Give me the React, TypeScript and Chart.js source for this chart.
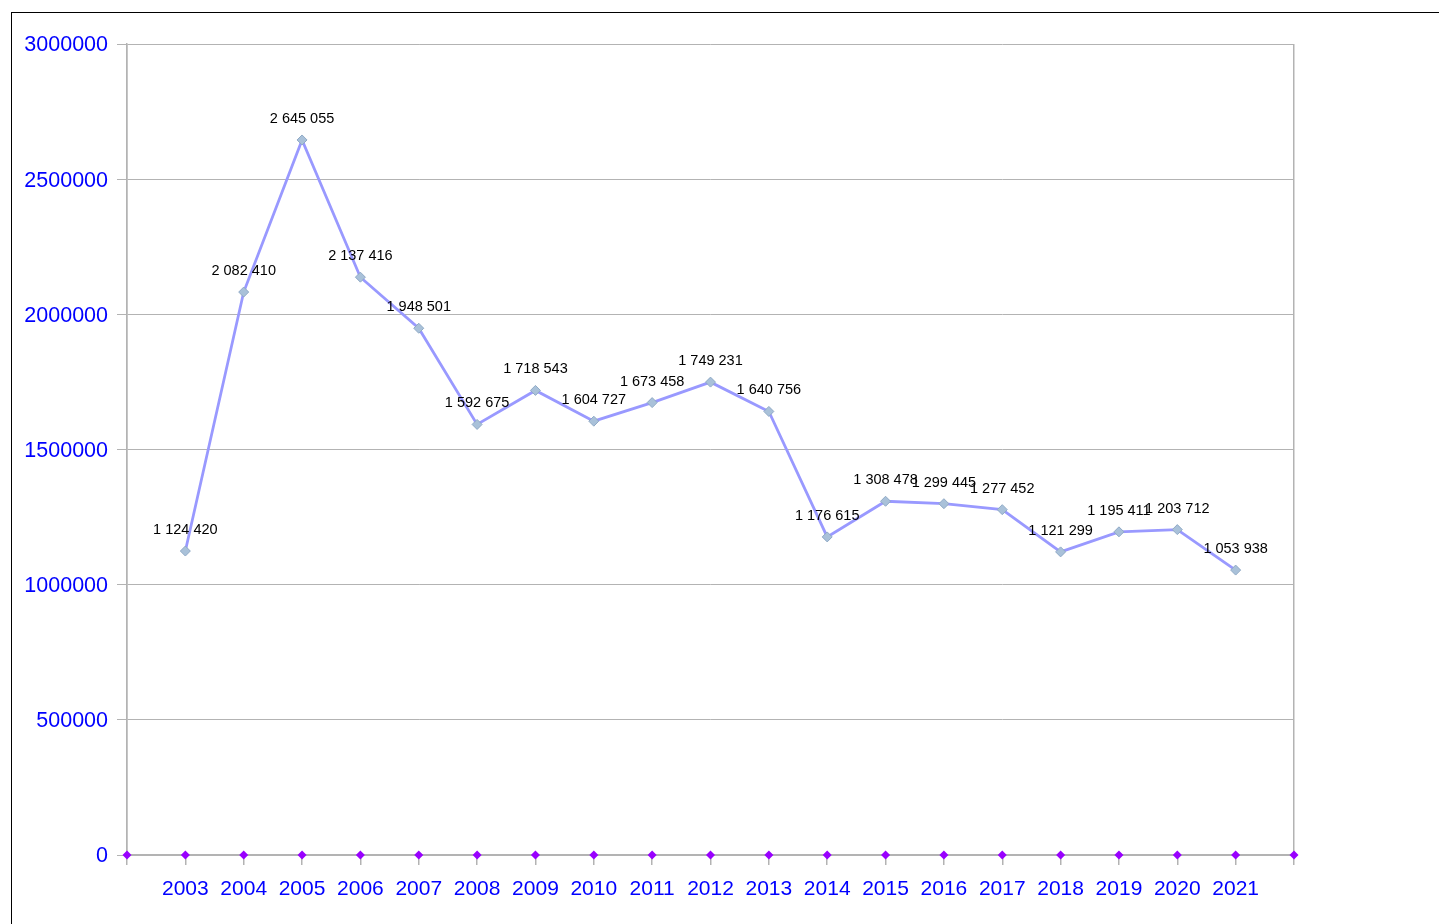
import React, { useEffect, useRef } from "react";
import { Chart, registerables } from "chart.js";

Chart.register(...registerables);

const categories = ["", "2003", "2004", "2005", "2006", "2007", "2008", "2009", "2010", "2011", "2012", "2013", "2014", "2015", "2016", "2017", "2018", "2019", "2020", "2021", ""];
const seriesValues: (number | null)[] = [null, 1124420, 2082410, 2645055, 2137416, 1948501, 1592675, 1718543, 1604727, 1673458, 1749231, 1640756, 1176615, 1308478, 1299445, 1277452, 1121299, 1195411, 1203712, 1053938, null];
const baseValues = [0, 0, 0, 0, 0, 0, 0, 0, 0, 0, 0, 0, 0, 0, 0, 0, 0, 0, 0, 0, 0];
const yMin = 0;
const yMax = 3000000;
const yStep = 500000;

const GRID = "#b3b3b3";
const FONT = "'Liberation Sans', Arial, sans-serif";

function fmt(v: number): string {
  return String(v).replace(/\B(?=(\d{3})+(?!\d))/g, " ");
}

const labelPlugin = {
  id: "valueLabels",
  afterDatasetsDraw(chart: any) {
    const ctx = chart.ctx;
    const meta = chart.getDatasetMeta(1);
    ctx.save();
    ctx.font = `14.5px ${FONT}`;
    ctx.fillStyle = "#000000";
    ctx.textAlign = "center";
    ctx.textBaseline = "middle";
    meta.data.forEach((pt: any, i: number) => {
      const v = seriesValues[i];
      if (v == null) return;
      ctx.fillText(fmt(v), pt.x, pt.y - 21);
    });
    ctx.restore();
  },
};

export default function App() {
  const ref = useRef<HTMLCanvasElement>(null);
  useEffect(() => {
    if (!ref.current) return;
    const chart = new Chart(ref.current, {
      type: "line",
      data: {
        labels: categories,
        datasets: [
          {
            label: "base",
            data: baseValues,
            showLine: false,
            pointStyle: "rectRot",
            pointRadius: 4.5,
            pointBackgroundColor: "#9900ff",
            pointBorderColor: "#9900ff",
            pointBorderWidth: 0,
            clip: false as any,
          },
          {
            label: "values",
            data: seriesValues,
            borderColor: "#9999ff",
            borderWidth: 2.8,
            pointStyle: "rectRot",
            pointRadius: 5,
            pointBackgroundColor: "#a9c1d9",
            pointBorderColor: "#8fa9c5",
            pointBorderWidth: 1,
            tension: 0,
            spanGaps: false,
            clip: false as any,
          },
        ],
      },
      options: {
        responsive: false,
        animation: false,
        events: [],
        layout: { padding: { top: 44, right: 145, bottom: 0, left: 0 } },
        plugins: { legend: { display: false }, tooltip: { enabled: false } },
        scales: {
          x: {
            type: "category",
            offset: false,
            border: { display: true, color: GRID, width: 1.5 },
            grid: {
              display: true,
              drawOnChartArea: true,
              color: (c: any) => (c.index === 0 || c.index === categories.length - 1 ? GRID : "rgba(0,0,0,0)"),
              tickColor: GRID,
              tickLength: 10,
              lineWidth: 1.5,
            },
            ticks: {
              color: "#0000ff",
              font: { family: FONT, size: 21 },
              padding: 12,
              maxRotation: 0,
              autoSkip: false,
            },
            afterFit: (s: any) => {
              s.height = 69;
            },
          },
          y: {
            min: yMin,
            max: yMax,
            border: { display: true, color: GRID, width: 1.5 },
            grid: { color: GRID, tickColor: GRID, tickLength: 10, lineWidth: 1 },
            ticks: {
              stepSize: yStep,
              color: "#0000ff",
              font: { family: FONT, size: 21.5, lineHeight: 1.3 },
              padding: 9,
              labelOffset: 1.5,
              callback: (v: any) => String(v),
            },
            afterFit: (s: any) => {
              s.width = 127;
            },
          },
        },
      },
      plugins: [labelPlugin],
    });
    return () => chart.destroy();
  }, []);
  return (
    <div style={{ position: "absolute", left: 0, top: 0, width: 1439, height: 924, overflow: "hidden", background: "#fff" }}>
      <div style={{ position: "absolute", left: 11, top: 12, width: 1427, height: 1000, borderTop: "1px solid #000", borderLeft: "1px solid #000" }} />
      <canvas ref={ref} width={1439} height={924} style={{ position: "absolute", left: 0, top: 0 }} />
    </div>
  );
}
